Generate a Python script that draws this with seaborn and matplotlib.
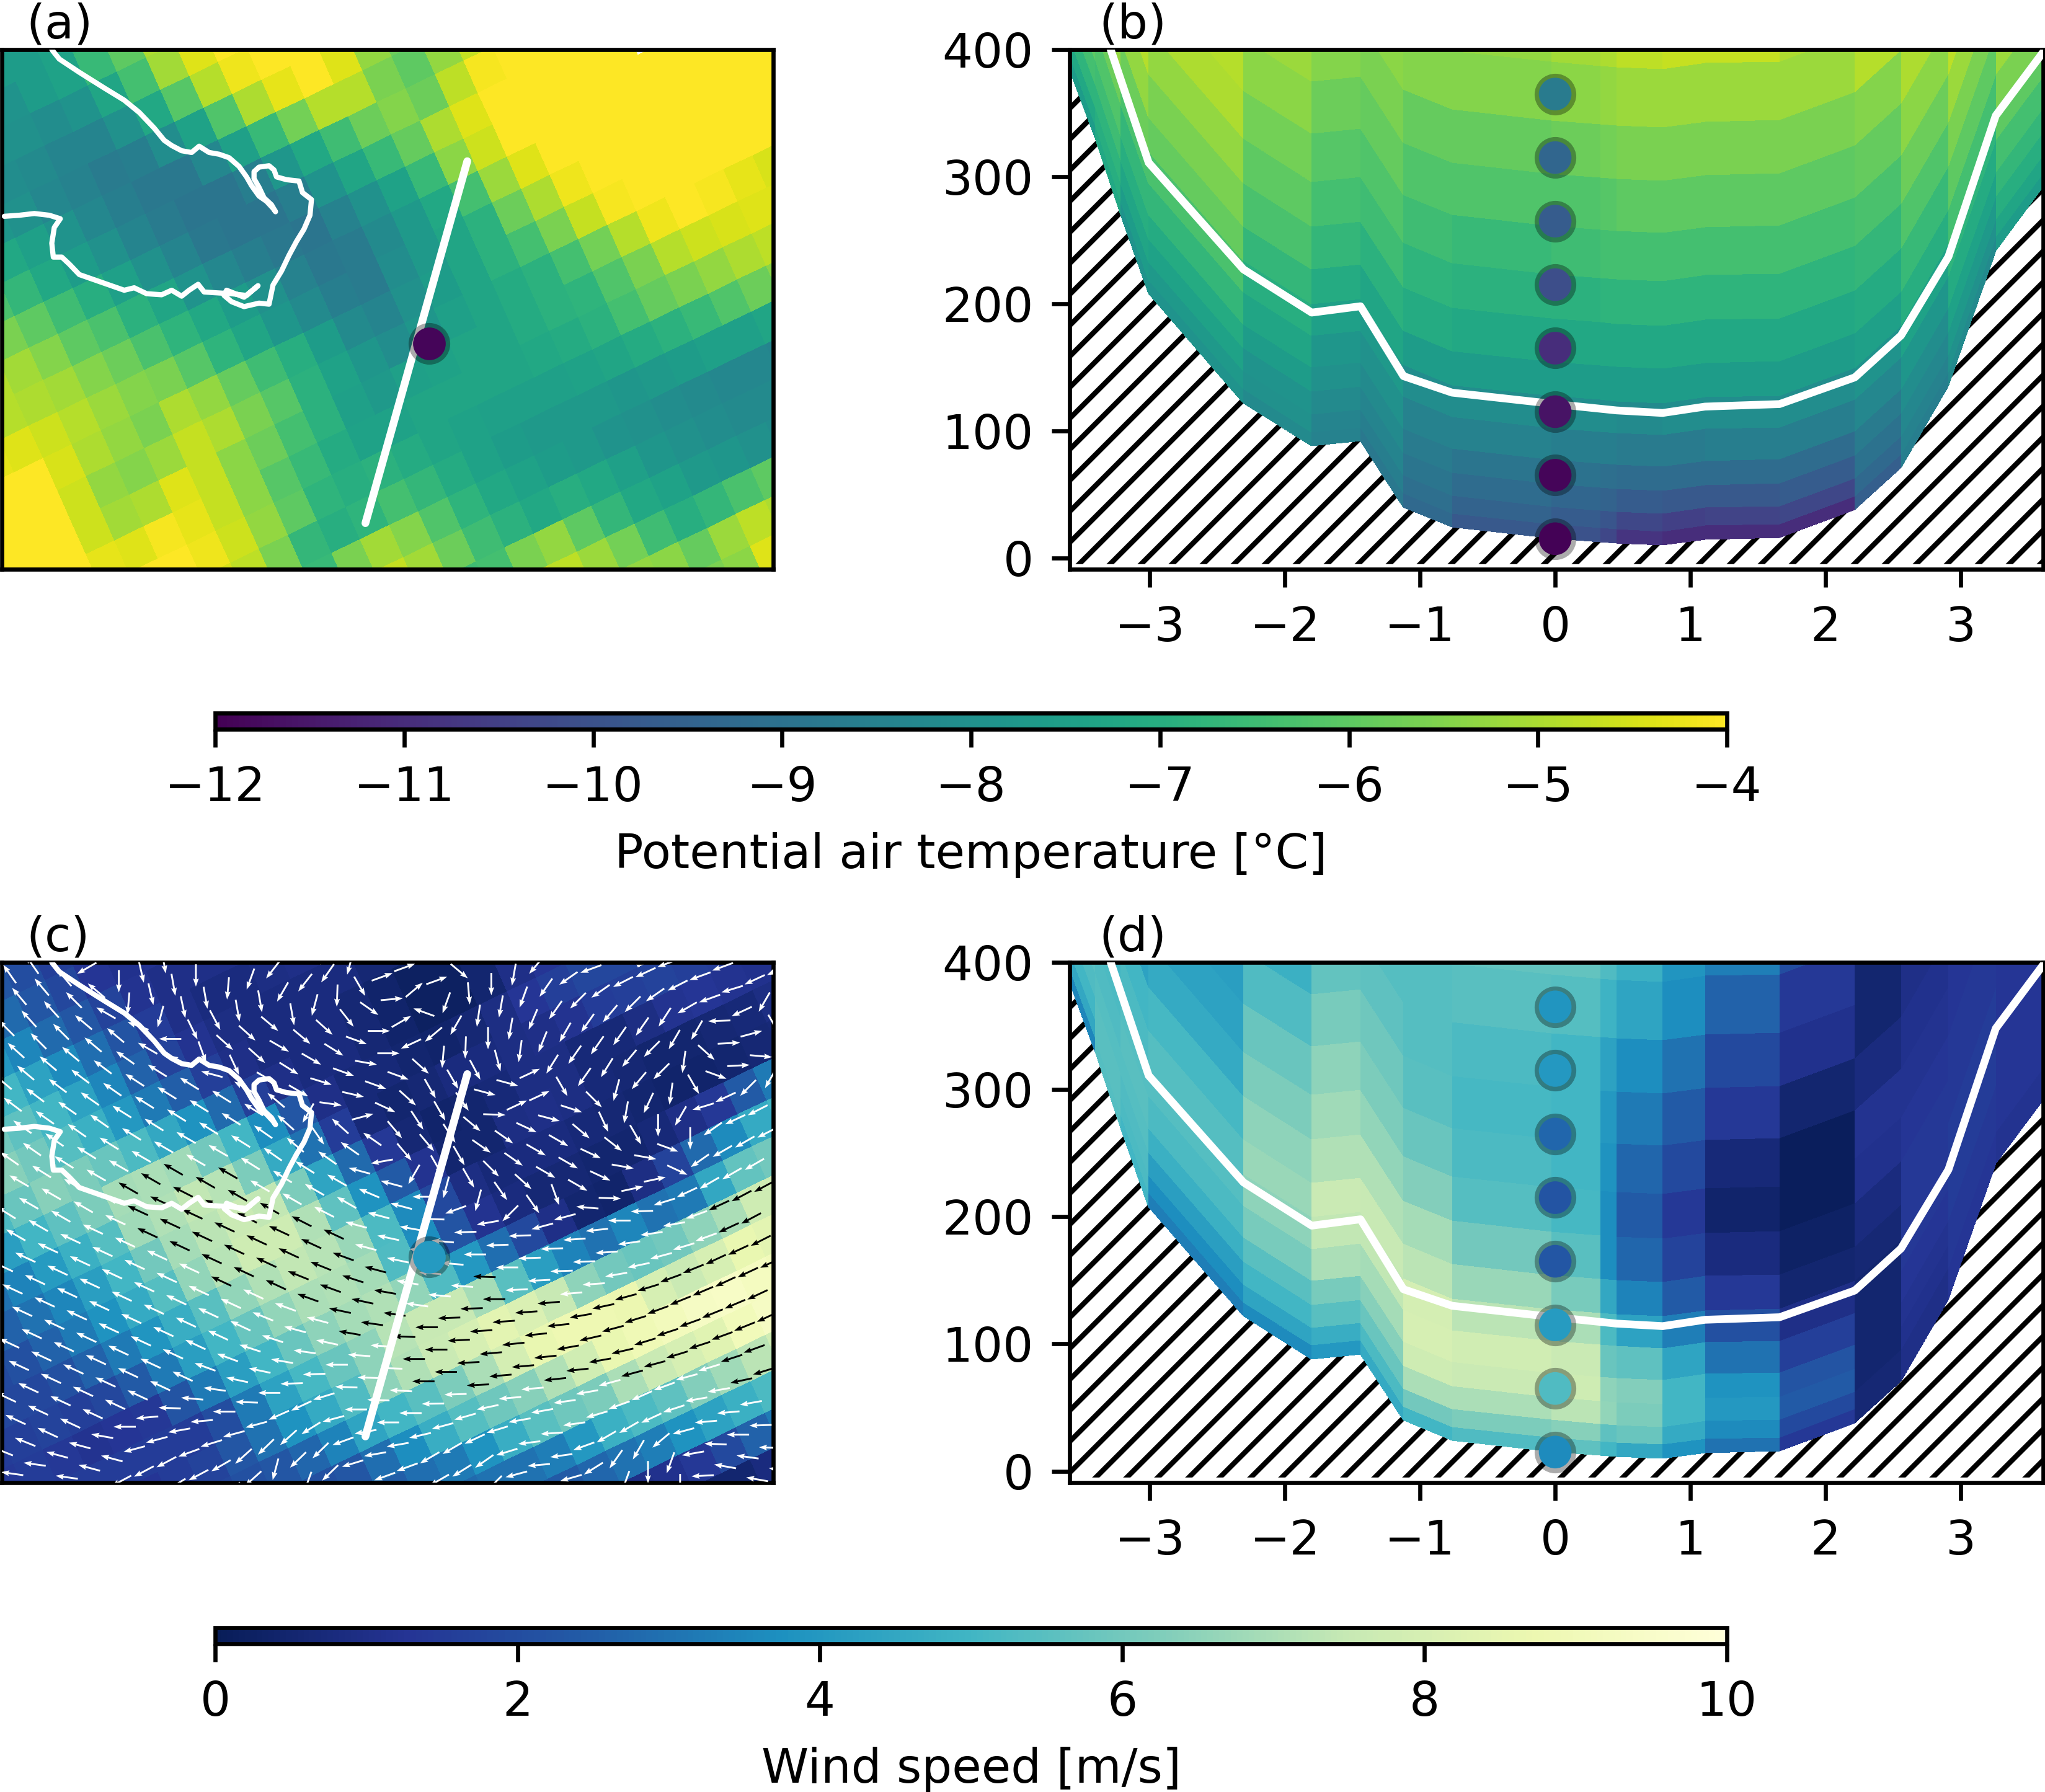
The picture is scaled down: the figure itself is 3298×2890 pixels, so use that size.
import numpy as np
import matplotlib
matplotlib.use("Agg")
import matplotlib.pyplot as plt
from matplotlib.cm import ScalarMappable
from matplotlib.colors import Normalize
import seaborn as sns

# ---------------- map fields on the rotated model grid (rows along the grid) ----------------
map_row_start = [6,5,5,4,4,4,3,3,2,2,1,1,0,0,1,4,6,8,11,13,15,17,20,22]
theta_rows = [
 [-7.6,-7.6,-7.4,-6.8],
 [-8,-7.9,-7.6,-7.4,-6.6,-6,-5],
 [-8,-8,-8.1,-7.9,-7.3,-6.4,-5.1,-4.4,-4],
 [-7.9,-8.1,-8.2,-8.4,-8.4,-8,-7.2,-6.1,-4.9,-4.2,-4,-4],
 [-7.8,-8,-8.3,-8.5,-8.7,-8.6,-8.1,-7.4,-6.2,-5,-4.3,-4,-4.4,-5.3,-5.8],
 [-7.2,-7.5,-7.9,-8.3,-8.6,-8.8,-8.8,-8.3,-7.5,-6.6,-5.7,-4.9,-4.9,-5.6,-6,-5.3,-4.7],
 [-6.3,-6.7,-7.2,-7.6,-8,-8.4,-8.7,-8.9,-8.9,-8.6,-7.8,-7.2,-6.5,-5.8,-5.5,-5.8,-4.8,-4.1,-4,-4],
 [-5.6,-6,-6.5,-7,-7.5,-8,-8.4,-8.8,-8.9,-8.9,-8.6,-7.9,-7.3,-6.6,-5.9,-5,-4.4,-4,-4,-4,-4,-4],
 [-4.9,-5.1,-5.5,-6,-6.3,-6.9,-7.3,-7.9,-8.3,-8.6,-8.8,-8.9,-8.5,-8,-7.4,-6.6,-5.4,-4.6,-4,-4,-4,-4,-4,-4,-4,-4],
 [-4.9,-5,-5.1,-5.5,-5.8,-6.3,-6.8,-7.2,-7.6,-8,-8.5,-8.8,-8.7,-8.2,-7.7,-7.2,-6.4,-5.2,-4.4,-4,-4,-4,-4,-4,-4,-4,-4,-4],
 [-4.3,-4.4,-4.6,-4.9,-5.2,-5.5,-5.6,-6.1,-6.8,-7.3,-7.8,-8.2,-8.6,-8.7,-8.1,-7.7,-7.3,-6.9,-5.8,-5,-4.2,-4,-4,-4,-4,-4,-4,-4],
 [-4,-4,-4.5,-5,-5.3,-5.6,-5,-5.3,-5.9,-6.5,-7,-7.6,-8.2,-8.4,-8,-7.6,-7.3,-6.9,-6.4,-5.6,-4.7,-4.1,-4,-4,-4,-4,-4,-4],
 [-4,-4,-4,-4.6,-5.3,-5.5,-5.2,-4.7,-5,-5.6,-6.1,-6.9,-7.4,-7.8,-8.1,-7.8,-7.5,-7.3,-7.1,-6.9,-6.4,-5.7,-4.9,-4.2,-4,-4.1,-4.3,-4.5],
 [-4,-4,-4,-4.6,-5.1,-5,-4.4,-4.7,-5.4,-5.8,-6.4,-6.9,-7.5,-7.7,-7.5,-7.4,-7.3,-7.3,-7.1,-6.9,-6.8,-6.2,-5.6,-4.9,-4.6,-4.5,-4.4,-4.4],
 [-4,-4,-4.3,-4.4,-4.1,-4.3,-4.7,-5.4,-6.1,-6.6,-7.1,-7.4,-7.4,-7.3,-7.3,-7.3,-7.3,-7.2,-7.1,-6.9,-6.4,-5.9,-5.6,-5.3,-5,-4.8],
 [-4,-4,-4.2,-4.6,-5.3,-6,-6.8,-7,-6.9,-7.1,-7.3,-7.4,-7.5,-7.5,-7.5,-7.4,-7.3,-7.1,-6.9,-6.6,-6.2,-5.8,-5.4],
 [-4.5,-4.8,-5.6,-6.7,-7,-6.8,-6.4,-6.7,-7.1,-7.4,-7.6,-7.7,-7.7,-7.7,-7.8,-7.7,-7.6,-7.5,-7.5,-7.3],
 [-6,-6.6,-5.6,-5.1,-5.5,-6.2,-6.8,-7.2,-7.4,-7.6,-7.7,-7.9,-8,-8.1,-8.2,-8.3,-8.3,-8.4],
 [-4.7,-5.1,-5.8,-6.5,-6.9,-7.2,-7,-7.2,-7.5,-7.8,-8,-8.1,-8.2,-8.2],
 [-6.5,-6.4,-5.6,-5.3,-6,-6.7,-7.2,-7.4,-7.7,-7.8,-8,-8.1],
 [-4.6,-4.8,-5.2,-5.7,-6.5,-7,-6.7,-6.3,-6],
 [-5,-5.3,-5.4,-5.9,-5.2,-4.8,-5],
 [-5.6,-5.4,-4.4],
 [-4.5],
]
speed_rows = [
 [2.3,2,1.6,1.4],
 [3.2,2.8,2.3,1.8,1.3,1.1,1.2],
 [4,3.5,2.8,2.3,1.7,1.2,1,1,1],
 [5.4,5,4.3,3.6,2.9,2.2,1.5,1,.8,.8,.9,1],
 [6,5.6,5,4.3,3.5,2.6,1.7,1.2,.9,.8,.8,.8,.8,.6,.6],
 [6.4,6,5.4,4.8,4,3.2,2.5,1.6,1,.8,.8,.8,.6,.4,.2,.2,.5],
 [5.2,5.8,6.4,6.2,5.8,5.2,4.5,3.8,2.8,1.6,1,.8,.8,.6,.4,.2,.2,.5,1,1.3],
 [4.2,5,5.6,6.2,6.9,7,6.8,6,5,3.7,2.3,1,.7,.7,.5,.4,.6,.9,1.3,1.6,1.8,1.8],
 [3,3.4,4.1,4.8,5.4,6.8,7.1,7.4,7.2,6.2,4.6,3,1.5,.7,.5,.6,.8,.8,.9,1,1.2,1.5,1.6,1.7,1.6,1.5],
 [2.6,3,3.5,4.2,5,6,6.9,7.3,7.6,7.4,6.2,4.4,2.8,1.4,.6,.4,.5,.7,.9,.9,.7,.7,.9,1.2,1.3,1.2,1.1,1],
 [1.9,2.1,2.6,3.2,3.8,4.6,5.4,6.6,7.2,7.7,7.7,7.1,5.6,3.8,2.4,1.2,.5,.5,.9,1,.9,.7,.6,.5,.5,.6,.7,.9],
 [1.8,1.8,2.1,2.6,3.2,3.9,4.7,5.5,6.6,7.1,7.4,7.2,6.7,5.2,3.6,1.9,.9,.7,.8,.8,.7,.6,.5,.4,.4,.5,.6,.7],
 [1.5,1.6,1.7,1.6,1.8,2.4,3.2,4.2,5,5.8,6.6,7,7.1,6.9,5.3,3.7,2.2,1.2,.8,.6,.6,.5,.5,.7,1,1.4,2.4,3.2],
 [1.4,1.5,1.4,1.2,1.3,1.4,2.2,3.2,4.2,5,5.8,6.5,6.9,7.1,6.6,5.3,4,2.9,1.9,1,.5,.4,.9,1.7,2.8,3.6,4.6,5],
 [1.6,1.5,1.5,1.5,1.5,1.5,2,3.2,4.3,5.1,5.8,6.5,7.2,7.5,7.5,6.9,5.5,4.2,3.4,3,3.5,3,3.2,4.5,5.7,6],
 [1.3,1.5,1.7,2.3,3,3.8,4.6,5.3,6.5,7.1,7.6,8,8.4,8.1,7.5,6.5,6,5.8,6,6.5,7,7.7,7.8],
 [1.8,2.1,2.3,2.7,3.4,4.4,5,5.5,6.2,7,7.9,8.6,8.8,8.8,8.7,8,7.6,8,8.6,8.4],
 [2,2.1,2.3,2.9,3.7,4.7,5.4,5.9,6.4,7.1,7.8,8.6,8.9,9.1,9.3,9.4,9.2,9],
 [2.5,2.9,3.2,3.8,4.7,5.5,5.9,6.2,7,7.6,8,8.3,9,9.3],
 [2.8,3,3,3.3,4,4.8,5.2,5.6,6.3,6.8,7.3,7.8],
 [2.5,2.4,2.7,3,3.3,3.8,4.3,4.8,5.2],
 [.9,1,1.1,1.4,1.9,2.6,3.2],
 [.5,.5,.8],
 [.5],
]

# wind direction (degrees, counter-clockwise from east) at each arrow of the model grid
wind_row_index = list(range(-22, 10))
wind_row_start = [-8,-8,-9,-9,-10,-10,-10,-11,-11,-12,-12,-13,-13,-13,-14,-14,-15,-15,-16,-16,-15,-12,-10,-8,-5,-3,-1,2,4,7,9,11]
wind_rows = [
 [125,125],
 [130,130,130,210],
 [135,132,132,135,140,270,283,280],
 [138,135,135,140,150,265,283,280,270],
 [140,140,140,140,140,140,160,255,282,280,265,250,232],
 [143,143,143,143,143,145,150,180,296,298,280,280,240,232,235,255],
 [145,145,145,145,145,147,148,150,290,318,318,320,280,255,268,300,20,20],
 [145,145,145,145,145,148,148,148,148,165,295,318,330,320,318,308,325,5,40,20,320],
 [150]+[148]*9+[150,330,328,330,328,340,0,30,160,250,275,270,260,230],
 [148]+[150]*8+[148,148,148,140,330,343,340,350,0,205,220,240,262,260,250,235,215,200],
 [150]*10+[148,145,138,240,352,347,340,340,318,265,268,270,260,247,235,225,215,207,205,200],
 [155]*8+[153,150,150,148,145,140,305,138,15,335,318,300,300,298,285,262,248,240,235,230,225,215,207,200,200],
 [155]*9+[153,150,150,148,148,145,145,145,310,303,300,305,345,345,25,238,235,235,235,235,237,210,200,197,205,205],
 [155]*10+[153,150,150,150,150,165,190,310,310,303,320,358,25,25,300,235,238,230,225,240,240,182,205,240],
 [155]*13+[153,153,150,157,165,240,300,300,325,325,335,345,342,315,255,230,225,262,318,3,15,300],
 [155]*15+[165,165,165,180,255,300,315,325,330,330,320,295,260,245,262,300,340,3,355],
 [155]*13+[158,158,160,165,168,170,178,200,255,305,318,330,330,335,322,300,270,240,197,205,225,240],
 [155]*11+[158,160,160,160,162,165,168,170,175,182,190,225,305,290,330,335,350,350,340,270,215,205,207],
 [158,158]+[155]*7+[160,160,162,162,165,165,168,168,170,170,175,175,180,182,182,195,195,175,358,12,12,335,215,210,210,207],
 [172,172,165,165,170,180,185,178,175,172,168,168,170,172,168,170,172,172,172,175,176,178,180,182,182,184,186,180,182,197,205,210,210,210],
 [165,172,165,165,195,195,190,185,180,178,180,182,182,180,176,176,178,180,182,182,180,183,183,182,182,184,188,188,190,200,205,208,208],
 [208,208,208,200,197,195,195,204,205,197,178,178,178,180,180,183,184,184,184,185,185,184,190,192,195,197,200,205,208],
 [211,208,210,222,224,222,212,195,180,178,177,180,180,183,185,186,186,186,190,192,195,197,200,202,205,205,207],
 [210,222,255,224,224,200,190,180,180,181,182,183,185,185,186,190,193,195,197,200,202,203,205,205,205],
 [250,224,197,190,190,193,195,196,192,185,185,186,186,190,193,197,198,200,202,203,205],
 [190,200,200,210,210,205,197,190,190,188,190,195,195,195,197,198,200,202,205],
 [200,210,212,215,197,187,184,188,196,200,204,200,195,197,198,200],
 [225,195,185,188,200,210,210,205,198,190,190,192,197],
 [196,196,212,235,240,220,195,185,185,190],
 [250,270,250,190,178,180,182],
 [270,183,170,172,178],
 [155,170,170],
]

# coast line and transect in map pixels
coast_x = [105,120,160,210,250,280,310,330,345,365,385,400,420,440,460,480,495,505,520,535,548,553,545,530,520,510,510,520,540,550,555,575,600,607,625,622,610,595,580,565,548,540,520,490,465,450,455,490,518,495,465,430,410,398,380,365,345,325,295,270,250,210,160,140,125,108,105,110,122,100,70,40,10]
coast_y = [35,62,100,145,180,215,260,295,310,325,330,312,330,335,345,370,400,425,455,470,490,500,480,460,430,405,385,372,368,380,400,408,412,445,465,510,550,585,625,670,710,765,762,772,758,740,725,745,712,740,735,732,730,708,725,742,725,738,735,718,725,705,680,650,630,630,590,545,520,510,505,510,513]
transect_x = [733, 937]
transect_y = [1393, 355]
map_marker_x = [860]
map_marker_y = [878]
map_marker_theta = [-11.9]
map_marker_speed = [4.05]

# ---------------- vertical sections ----------------
sec_x = [-3.594,-3.407,-3.219,-3.009,-2.307,-1.802,-1.441,-1.123,-0.763,-0.028,0.337,0.454,0.796,1.109,1.661,2.218,2.560,2.911,3.261,3.612]
sec_ground = [384,330,270,208,122,88,92,40,24,15.5,12.5,11.5,10,14.6,15.8,37.8,70.8,135,242,292]
level_heights = [0,11,25,43,62,87,112,139,173,208,246,287,329,375,430]
# values per column, bottom layer first
sec_theta_cols = [
 [-7.6,-7.2,-6.8,-6.4,-6,-5.5,-5.5,-5.5,-5.5,-5.5,-5.5,-5.5,-5.5,-5.5],
 [-7.2,-7,-6.8,-6.5,-6.2,-5.8,-5.3,-5,-5,-5,-5,-5,-5,-5],
 [-7.9,-7.6,-7.3,-7,-6.7,-6.3,-5.8,-5.3,-4.9,-4.7,-4.7,-4.7,-4.7,-4.7],
 [-7.9,-7.7,-7.4,-7.1,-6.7,-6.3,-5.9,-5.6,-5.3,-5,-4.9,-4.9,-4.9,-4.9],
 [-8.2,-8,-7.9,-7.6,-7.3,-7,-6.7,-6.3,-6,-5.7,-5.4,-5.2,-5,-5],
 [-8.5,-8.4,-8.2,-8,-7.8,-7.5,-7.1,-6.7,-6.4,-6.1,-5.8,-5.5,-5.3,-5.3],
 [-8.8,-8.6,-8.4,-8.2,-8,-7.7,-7.3,-6.9,-6.5,-6.2,-5.9,-5.6,-5.4,-5.4],
 [-9.3,-9.1,-8.9,-8.7,-8.5,-8.1,-7.6,-7.1,-6.8,-6.5,-6.2,-5.9,-5.5,-5.3],
 [-9.8,-9.5,-9.2,-8.9,-8.5,-8.1,-7.6,-7.2,-6.9,-6.6,-6.2,-5.9,-5.5,-5.3],
 [-10,-9.7,-9.4,-9,-8.6,-8.1,-7.6,-7.2,-6.9,-6.5,-6.2,-5.8,-5.4,-5.1],
 [-10.3,-9.9,-9.5,-9.1,-8.6,-8.1,-7.6,-7.2,-6.8,-6.4,-6.1,-5.7,-5.3,-5],
 [-10.8,-10.3,-9.7,-9.2,-8.7,-8.2,-7.6,-7.2,-6.8,-6.4,-6,-5.6,-5.2,-4.8],
 [-11,-10.5,-9.8,-9.2,-8.7,-8.1,-7.6,-7.2,-6.8,-6.4,-6,-5.6,-5.2,-4.7],
 [-11,-10.4,-9.8,-9.2,-8.6,-8.1,-7.6,-7.2,-6.8,-6.4,-6,-5.6,-5.2,-4.7],
 [-11,-10.3,-9.7,-9.2,-8.6,-8.1,-7.6,-7.2,-6.8,-6.4,-6,-5.6,-5.2,-5],
 [-9.6,-9.3,-9,-8.7,-8.3,-7.9,-7.5,-7.1,-6.7,-6.3,-5.9,-5.5,-4.9,-4.7],
 [-8.6,-8.5,-8.3,-8.1,-7.8,-7.4,-7,-6.6,-6.2,-5.8,-5.4,-5,-4.7,-4.7],
 [-8.2,-8,-7.7,-7.4,-7.1,-6.8,-6.4,-6,-5.6,-5.2,-4.8,-4.8,-4.8,-4.8],
 [-7.6,-7.3,-7,-6.7,-6.4,-6,-5.6,-5.2,-4.8,-4.8,-4.8,-4.8,-4.8,-4.8],
]
sec_speed_cols = [
 [3.5,4.5,5,5.3,5.5,5.5,5.5,5.5,5.5,5.5,5.5,5.5,5.5,5.5],
 [5.4,5.5,5.5,5.4,5.3,5.2,5,4.8,4.5,4.5,4.5,4.5,4.5,4.5],
 [5,5.2,5.3,5.4,5.5,5.4,5.2,5,4.3,4,4,4,4,4],
 [3.3,3.7,4.2,4.8,5.2,5.4,5.4,5.1,4.6,4.3,4.2,4.2,4.2,4.2],
 [3.6,4.4,5,5.5,6.1,6.5,6.7,6.5,6.2,5.8,5.3,4.8,4.6,4.5],
 [4,4.7,5.5,6.1,7,7.4,7.6,7.1,6.8,6.5,6.1,5.7,5.5,5.5],
 [4.6,5.2,5.8,6.4,6.9,7.4,7.5,7.1,6.6,6.2,5.9,5.6,5.4,5.3],
 [5,6,7,7.7,8,7.9,7.3,6.9,6.3,5.8,5.5,5.4,5.4,5.4],
 [5.3,6.2,7,7.6,7.8,7.3,6.7,6,5.4,5.2,5.1,5.2,5.5,5.7],
 [5.6,6.4,7.3,7.7,7.6,7,6.1,5.5,5.1,5,5,5,5.4,5.7],
 [5,5.6,6.6,6.5,5.8,5.2,4.5,3.7,3.7,3.8,4,4.3,4.9,5.3],
 [4.5,5.8,6.2,6.3,5.6,4.3,3.4,2.7,2.4,2.7,3.2,3.7,4.4,4.8],
 [3.8,4.6,5,5,4.4,3.3,2.4,1.7,1.4,1.9,2.4,3,3.7,3.9],
 [3,3.6,4,3.8,3,2.1,1.4,.8,.4,.7,1.4,1.9,2.6,3.3],
 [1.4,1.9,2.4,2.2,1.6,1,.5,.3,.1,.1,.5,1.1,1.4,2],
 [.6,.6,.5,.5,.5,.5,.6,.8,1.1,1.2,.8,.5,.5,.5],
 [1,1,1.1,1.2,1.3,1.4,1.4,1.4,1.3,1.2,1.1,1,1,1],
 [1.3,1.3,1.4,1.4,1.5,1.5,1.5,1.4,1.4,1.3,1.3,1.3,1.3,1.3],
 [1.2,1.2,1.3,1.3,1.3,1.3,1.3,1.3,1.3,1.3,1.3,1.3,1.3,1.3],
]
pbl_x = [-3.29,-3.009,-2.307,-1.802,-1.441,-1.123,-0.763,0,0.454,0.796,1.109,1.661,2.218,2.560,2.911,3.261,3.612]
pbl_z = [400,311,227,193,198,143,130,121,116,114,119,121,142,175,237,348,398]
marker_z = [15,65,115,165,215,265,315,365]
marker_theta = [-11.95,-11.9,-11.6,-11,-10.1,-9.7,-9.4,-8.7]
marker_speed = [3.6,5.3,4.1,2.3,2.2,2.7,4,3.9]

theta_ticks = [-12,-11,-10,-9,-8,-7,-6,-5,-4]
speed_ticks = [0,2,4,6,8,10]

# ---------------- style and layout ----------------
W, H = 3298, 2890
FS = 9.25
sns.set_style("ticks", rc={"axes.edgecolor":"k","xtick.color":"k","ytick.color":"k","text.color":"k",
                           "axes.labelcolor":"k","hatch.linewidth":0.8,
                           "xtick.bottom":True,"ytick.left":True})
plt.rcParams["font.family"] = ["DejaVu Sans"]
plt.rcParams["font.size"] = FS
theta_cmap = sns.color_palette("viridis", as_cmap=True)
speed_cmap = sns.color_palette("YlGnBu_r", as_cmap=True)
theta_norm = Normalize(-12, -4)
speed_norm = Normalize(0, 10)

fig = plt.figure(figsize=(W/600, H/600), dpi=600)
def pax(l, t, r, b):
    return fig.add_axes([l/W, 1-b/H, (r-l)/W, (b-t)/H])

ax_a = pax(3, 80, 1247, 918)
ax_b = pax(1725, 80, 3295, 918)
ax_c = pax(3, 1552, 1247, 2391)
ax_d = pax(1725, 1552, 3295, 2391)
cax1 = pax(347, 1150, 2785, 1176)
cax2 = pax(347, 2625, 2785, 2651)

# map pixel conversions
SX, SY = 0.806, 0.5624
def to_px(X, Y):
    return (np.asarray(X, float)-5)*SX, (np.asarray(Y, float)-35)*SY

# rotated mesh corners
n_rows, n_cols = 24, 30
jj, nn = np.meshgrid(np.arange(n_rows+1), np.arange(n_cols+1), indexing="ij")
mesh_x, mesh_y = to_px(-401+28.6*jj+58*nn, 315+92*jj-40*nn)
def grid_from_rows(rows):
    C = np.full((n_rows, n_cols), np.nan)
    for j, (s, r) in enumerate(zip(map_row_start, rows)):
        C[j, s:s+len(r)] = r
    return np.ma.masked_invalid(C)
theta_grid = grid_from_rows(theta_rows)
speed_grid = grid_from_rows(speed_rows)

# arrows
ax_list, ay_list, dir_list = [], [], []
for k, s, r in zip(wind_row_index, wind_row_start, wind_rows):
    for i, d in enumerate(r):
        m = s+i
        ax_list.append(644+36.3*m+15.5*k)
        ay_list.append(690-15.1*m+36*k)
        dir_list.append(d)
ax_arr, ay_arr, dirs = np.array(ax_list), np.array(ay_list), np.radians(dir_list)
# speed under each arrow decides its colour
o = np.array([mesh_x[0,0], mesh_y[0,0]])
E = np.array([[mesh_x[0,1]-o[0], mesh_x[1,0]-o[0]], [mesh_y[0,1]-o[1], mesh_y[1,0]-o[1]]])
nj = np.linalg.solve(E, np.vstack([ax_arr-o[0], ay_arr-o[1]]))
ni = np.clip(np.floor(nj[0]).astype(int), 0, n_cols-1)
ji = np.clip(np.floor(nj[1]).astype(int), 0, n_rows-1)
arrow_speed = speed_grid.filled(0)[ji, ni]
is_fast = arrow_speed >= 6.8

cx, cy = to_px(coast_x, coast_y)
tx, ty = to_px(transect_x, transect_y)
mx, my = to_px(map_marker_x, map_marker_y)
ring = (0, 0, 0, 0.33)

def markers(ax, x, y, vals, cmap, norm, z):
    sns.scatterplot(x=x, y=y, color=[ring], s=65, linewidth=0, ax=ax, zorder=z, legend=False, clip_on=False)
    sns.scatterplot(x=x, y=y, hue=vals, palette=cmap, hue_norm=(norm.vmin, norm.vmax), s=40,
                    linewidth=0, ax=ax, zorder=z+1, legend=False, clip_on=False)

for ax, grid, cmap, norm, mval in [(ax_a, theta_grid, theta_cmap, theta_norm, map_marker_theta),
                                   (ax_c, speed_grid, speed_cmap, speed_norm, map_marker_speed)]:
    ax.pcolormesh(mesh_x, mesh_y, grid, cmap=cmap, norm=norm, shading="flat", linewidth=0, rasterized=True)
    ax.set_xlim(0, 1245); ax.set_ylim(838, 0)
    ax.set_xticks([]); ax.set_yticks([])
    if ax is ax_c:
        kw = dict(angles="uv", scale_units="width", scale=1245/36, units="width", width=2.9/1245,
                  pivot="mid", headwidth=3.2, headlength=4.5, headaxislength=4, zorder=3)
        ax.quiver(ax_arr[~is_fast], ay_arr[~is_fast], np.cos(dirs[~is_fast]), np.sin(dirs[~is_fast]), color="w", **kw)
        ax.quiver(ax_arr[is_fast], ay_arr[is_fast], np.cos(dirs[is_fast]), np.sin(dirs[is_fast]), color="k", **kw)
    sns.lineplot(x=cx, y=cy, sort=False, estimator=None, color="w", lw=1.0, ax=ax, zorder=4, legend=False)
    sns.lineplot(x=tx, y=ty, sort=False, estimator=None, color="w", lw=1.5, ax=ax, zorder=5, legend=False)
    markers(ax, mx, my, mval, cmap, norm, 6)
    ax.set_xlim(0, 1245); ax.set_ylim(838, 0)

secx = np.array(sec_x); ground = np.array(sec_ground); lev = np.array(level_heights)
X2 = np.tile(secx, (len(lev), 1))
Z2 = ground[None, :] + lev[:, None]
for ax, cols, cmap, norm, mvals in [(ax_b, sec_theta_cols, theta_cmap, theta_norm, marker_theta),
                                    (ax_d, sec_speed_cols, speed_cmap, speed_norm, marker_speed)]:
    ax.fill_between(secx, -5, ground, facecolor="none", edgecolor="k", hatch="////", linewidth=0, zorder=1)
    ax.pcolormesh(X2, Z2, np.array(cols).T, cmap=cmap, norm=norm, shading="flat", linewidth=0, zorder=2, rasterized=True)
    sns.lineplot(x=pbl_x, y=pbl_z, sort=False, estimator=None, color="w", lw=1.5, ax=ax, zorder=4, legend=False)
    markers(ax, np.zeros(len(marker_z)), marker_z, mvals, cmap, norm, 5)
    ax.set_xlim(-3.594, 3.612); ax.set_ylim(-9, 400)
    ax.set_xticks([-3,-2,-1,0,1,2,3]); ax.set_yticks([0,100,200,300,400])
    ax.set_xlabel(""); ax.set_ylabel("")
    ax.tick_params(labelsize=FS)

for cax, cmap, norm, ticks, label in [(cax1, theta_cmap, theta_norm, theta_ticks, "Potential air temperature [°C]"),
                                      (cax2, speed_cmap, speed_norm, speed_ticks, "Wind speed [m/s]")]:
    cb = fig.colorbar(ScalarMappable(norm=norm, cmap=cmap), cax=cax, orientation="horizontal", ticks=ticks)
    cb.set_label(label, fontsize=FS, labelpad=4)
    cb.ax.tick_params(labelsize=FS)

for lab, x, y in [("(a)", 42, 62), ("(b)", 1772, 62), ("(c)", 42, 1534), ("(d)", 1772, 1534)]:
    fig.text(x/W, 1-y/H, lab, fontsize=FS, va="baseline", ha="left")

fig.savefig("out.png", dpi=600, facecolor="w")
